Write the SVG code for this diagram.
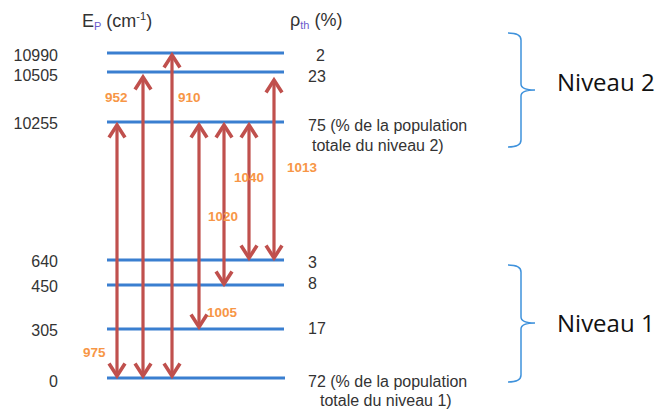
<svg xmlns="http://www.w3.org/2000/svg" width="655" height="412" viewBox="0 0 655 412">
<style>
.lvl{stroke:#3a7fd0;stroke-width:3}
.sh{stroke:#b0b0b0;stroke-width:3;filter:url(#blur)}
.num{font-family:"Liberation Sans",Arial,sans-serif;font-size:16px;fill:#333}
.arr{stroke:#c0504d;stroke-width:3.2;fill:none;marker-start:url(#ah);marker-end:url(#ah)}
.lab{font-family:"Liberation Sans",Arial,sans-serif;font-size:13.5px;font-weight:bold;fill:#f79646}
.brace{stroke:#3f92dc;stroke-width:1.5;fill:none}
.niv{font-family:"Open Sans","Liberation Sans",sans-serif;font-size:24px;fill:#111}
.hdr{font-family:"Liberation Sans",Arial,sans-serif;font-size:18px;fill:#333}
.sub{fill:#6a5acd}
</style>
<defs>
<filter id="blur" x="-5%" y="-200%" width="110%" height="500%"><feGaussianBlur stdDeviation="1"/></filter>
<marker id="ah" viewBox="-15 -10 19 20" markerWidth="19" markerHeight="20" refX="0" refY="0" orient="auto-start-reverse" markerUnits="userSpaceOnUse">
<path d="M-12.5,-8 L0,0 L-12.5,8" fill="none" stroke="#c0504d" stroke-width="3.6"/>
</marker>
</defs>

<g id="headers">
<text class="hdr" x="82" y="27">E<tspan class="sub" font-size="11" dy="3">P</tspan><tspan dy="-3"> (cm</tspan><tspan font-size="11" dy="-7">-1</tspan><tspan dy="7">)</tspan></text>
<text class="hdr" x="290" y="26">ρ<tspan class="sub" font-size="11" dy="3">th</tspan><tspan dy="-3"> (%)</tspan></text>
</g>

<g id="level-10990">
<line class="sh" x1="108" y1="56" x2="285" y2="56"/>
<line class="lvl" x1="107" y1="53" x2="284" y2="53"/>
<text class="num" x="58" y="61" text-anchor="end">10990</text>
<text class="num" x="325" y="61" text-anchor="end">2</text>
</g>
<g id="level-10505">
<line class="sh" x1="108" y1="75" x2="285" y2="75"/>
<line class="lvl" x1="107" y1="72" x2="284" y2="72"/>
<text class="num" x="58" y="81" text-anchor="end">10505</text>
<text class="num" x="308" y="82">23</text>
</g>
<g id="level-10255">
<line class="sh" x1="108" y1="125" x2="285" y2="125"/>
<line class="lvl" x1="107" y1="122" x2="284" y2="122"/>
<text class="num" x="58" y="129" text-anchor="end">10255</text>
<text class="num" x="308" y="131">75 (% de la population</text>
<text class="num" x="312" y="151">totale du niveau 2)</text>
</g>
<g id="level-640">
<line class="sh" x1="108" y1="263" x2="285" y2="263"/>
<line class="lvl" x1="107" y1="260" x2="284" y2="260"/>
<text class="num" x="58" y="267" text-anchor="end">640</text>
<text class="num" x="308" y="268">3</text>
</g>
<g id="level-450">
<line class="sh" x1="108" y1="288" x2="285" y2="288"/>
<line class="lvl" x1="107" y1="285" x2="284" y2="285"/>
<text class="num" x="58" y="292" text-anchor="end">450</text>
<text class="num" x="308" y="289">8</text>
</g>
<g id="level-305">
<line class="sh" x1="108" y1="332" x2="285" y2="332"/>
<line class="lvl" x1="107" y1="329" x2="284" y2="329"/>
<text class="num" x="58" y="336" text-anchor="end">305</text>
<text class="num" x="308" y="334">17</text>
</g>
<g id="level-0">
<line class="sh" x1="108" y1="381" x2="286" y2="381"/>
<line class="lvl" x1="107" y1="378" x2="285" y2="378"/>
<text class="num" x="58" y="387" text-anchor="end">0</text>
<text class="num" x="308" y="387">72 (% de la population</text>
<text class="num" x="320" y="406">totale du niveau 1)</text>
</g>

<g id="connectors">
<line class="arr" x1="117" y1="376" x2="117" y2="125"/>
<line class="arr" x1="143" y1="376" x2="143" y2="77"/>
<line class="arr" x1="172" y1="376" x2="172" y2="55"/>
<line class="arr" x1="199" y1="327" x2="199" y2="125"/>
<line class="arr" x1="224" y1="284" x2="224" y2="125"/>
<line class="arr" x1="249" y1="258" x2="249" y2="125"/>
<line class="arr" x1="274" y1="258" x2="274" y2="80"/>
<text class="lab" x="105" y="102">952</text>
<text class="lab" x="178" y="102">910</text>
<text class="lab" x="287" y="172">1013</text>
<text class="lab" x="234" y="182">1040</text>
<text class="lab" x="208" y="221">1020</text>
<text class="lab" x="207" y="317">1005</text>
<text class="lab" x="83" y="357">975</text>
</g>

<g id="niveau2">
<path class="brace" d="M508,33 Q521,33 521,40 L521,84 Q521,90 535,90 Q521,90 521,96 L521,140 Q521,147 508,147"/>
<text class="niv" x="557" y="91">Niveau 2</text>
</g>
<g id="niveau1">
<path class="brace" d="M508,265 Q521,265 521,272 L521,317 Q521,323 535,323 Q521,323 521,329 L521,375 Q521,382 508,382"/>
<text class="niv" x="557" y="332">Niveau 1</text>
</g>
</svg>
